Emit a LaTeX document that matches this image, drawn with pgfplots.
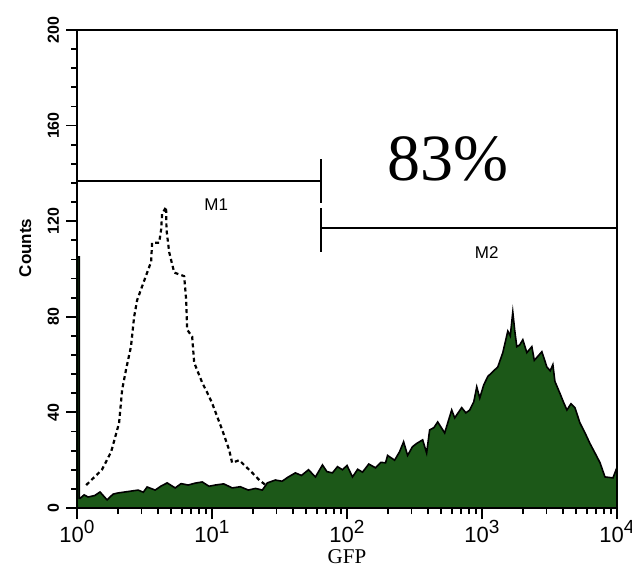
\documentclass[border=0pt]{standalone}
\usepackage{fontspec}
\setmainfont{Liberation Sans}
\newfontfamily\serif{Liberation Serif}
\usepackage{pgfplots}
\pgfplotsset{compat=1.18}
\definecolor{gfpgreen}{RGB}{28,88,24}
\newcommand{\tp}[1]{10\raisebox{0.8ex}{\fontsize{9.5}{9.5}\selectfont #1}}

\begin{document}
\begin{tikzpicture}
\begin{axis}[scale only axis,width=270pt,height=239pt,
  xmode=log,xmin=1,xmax=10000,ymin=0,ymax=200,
  xtick={1,10,100,1000,10000},
  xticklabels={\tp{0},\tp{1},\tp{2},\tp{3},\tp{4}},
  xticklabel style={font=\fontsize{11}{11}\selectfont,yshift=3pt},
  ytick={0,40,80,120,160,200},minor y tick num=4,
  yticklabel style={rotate=90,anchor=south,font=\bfseries\fontsize{8}{9}\selectfont},
  /pgf/number format/assume math mode=true,
  tick align=outside,tick pos=left,
  major tick length=5.5pt,minor tick length=3pt,
  every tick/.style={black,line width=0.9pt},
  axis line style={line width=1.1pt},
  xlabel={GFP},ylabel={Counts},
  xlabel style={font=\serif\fontsize{10.5}{10.5}\selectfont,at={(axis description cs:0.5,0)},anchor=center,yshift=-24.5pt},
  ylabel style={font=\bfseries\fontsize{8.5}{9}\selectfont,at={(axis description cs:-0.096,0.544)},anchor=center},
  clip=true]

% control (dotted)
\addplot[black,line width=1.1pt,dash pattern=on 2pt off 1.6pt] coordinates {
 (1.17,9.6)(1.53,16)(1.79,23.5)(2.05,35.6)(2.16,49.5)(2.31,58)(2.51,67.5)
 (2.65,80)(2.79,87)(3.14,95)(3.54,103)(3.6,111)(4.06,111)(4.2,116.5)
 (4.27,123)(4.57,126)(4.6,116.5)(4.82,107)(5.25,98.5)(6.22,97)(6.44,87)
 (6.55,74.6)(7.13,71.7)(7.38,60.8)(8.47,52.4)(9.23,48.2)(10,44)(11.9,32.7)
 (13.4,24.3)(14.1,18.9)(15.9,20)(19.9,14.7)(22.4,11.7)(30,6)(40,3)};

% GFP (filled)
\addplot[fill=gfpgreen,draw=black,line width=0.8pt] coordinates {
 (1,105)(1.04,105)(1.04,4)(1.053,4)(1.13,5.5)(1.207,4.6)(1.35,5.2)(1.481,6.7)(1.670,3.4)
 (1.85,5.8)(2.015,6.3)(2.4,6.9)(2.836,7.5)(3.1,6.6)(3.308,8.8)(3.793,7.5)(4.2,9.2)(4.655,10.5)(5.338,8.4)
 (5.9,10.2)(6.664,9.6)(7.5,10.4)(8.466,10.9)(9.5,9.1)(10.57,9.6)(12.2,10.1)(14.14,8.4)(16.2,8.9)(18.58,7.5)(21,8.2)(23.60,7.5)
 (25.70,10.5)(29.47,11.7)(33,11.2)(36.81,13)(41.48,14.7)(46,13.6)(51.81,16)(58.39,13)
 (65.79,18)(71,15.2)(78.06,14.7)(85,17.3)(92.60,16)(100,17.8)(109.8,13)(120,16.2)(130.3,15)(145,18.4)(162.7,16.8)(178,19.1)
 (193.1,18.9)(199.8,22)(225.2,20)(245,23.5)(262.6,27.7)(281.2,22)(305,25.6)(328.0,27)
 (363.4,28.5)(389.0,23)(409.5,32.7)(440,33.6)(469.6,36)(529.1,31.4)(596.3,41)
 (627.8,37.7)(707.5,42)(760,39.8)(811.3,41)(870,44.5)(914.2,50.7)(962.3,46)(1030,51.5)(1103.6,55)
 (1200,57)(1309,59)(1426,65)(1553,74)(1620,72)(1691,82)(1750,74)(1811,67.5)(1900,68.2)(2006,70.4)
 (2149,65)(2340,67.5)(2440,61.8)(2549,63)(2776,65.4)(3024,59)(3200,57.4)(3350,60)(3467,53)
 (3776,48)(4000,44.5)(4256,41)(4560,43.6)(4879,42)(5314,35.6)(5800,31.4)(6303,27)(6900,22.8)(7477,19)(8144,13)
 (9339,12.6)(10000,17)} \closedcycle;

% markers M1 and M2
\addplot[black,line width=1pt] coordinates {(1,136.7)(64,136.7)};
\addplot[black,line width=1pt] coordinates {(64,146)(64,127.5)};
\addplot[black,line width=1pt] coordinates {(64,117)(10000,117)};
\addplot[black,line width=1pt] coordinates {(64,125.5)(64,107)};
\node[font=\fontsize{8.5}{9}\selectfont] at (axis cs:10.75,127) {M1};
\node[font=\fontsize{8.5}{9}\selectfont] at (axis cs:1084,107) {M2};
\node[font=\serif\fontsize{33}{33}\selectfont] at (axis cs:557,146) {83\%};
\end{axis}
\pgfresetboundingbox
\path ([shift={(-38.5pt,-29.5pt)}]current axis.south west) rectangle ([shift={(7.5pt,15pt)}]current axis.north east);
\end{tikzpicture}
\end{document}
